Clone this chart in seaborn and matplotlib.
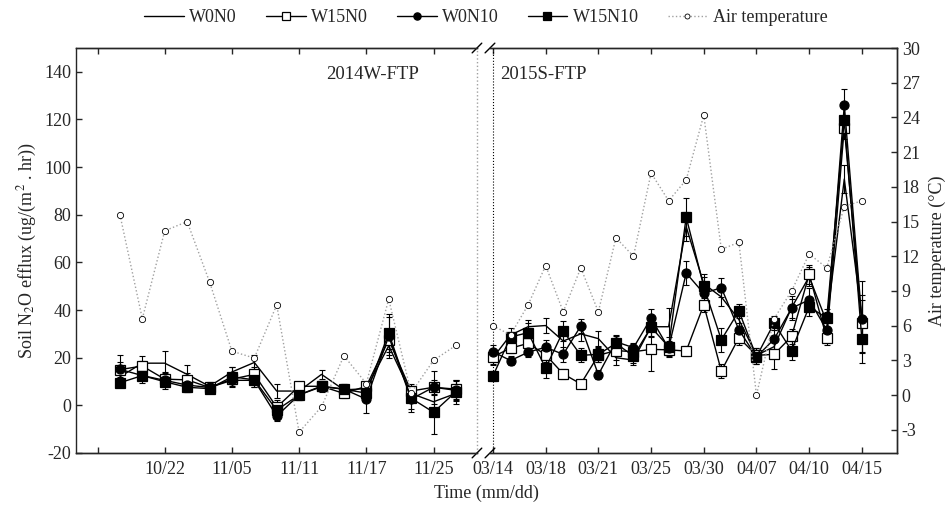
import numpy as np
import pandas as pd
import matplotlib
matplotlib.use("Agg")
import matplotlib.pyplot as plt
import seaborn as sns

# data (N2O in ug/(m2.hr), temperature in degC)

left_ticklabels = ["", "10/22", "11/05", "11/11", "11/17", "11/25"]
right_ticklabels = ["03/14", "03/18", "03/21", "03/25", "03/30", "04/07", "04/10", "04/15"]

temp_left = [15.6, 6.6, 14.2, 15.0, 9.8, 3.8, 3.2, 7.8, -3.2, -1.0, 3.4, 1.0, 8.3, 0.2, 3.0, 4.3]
w0n0_left = [12, 17.7, 17.7, 13, 8, 14, 18, 6, 6, 13, 6.5, 7, 25, 5, 1.5, 5]
w15n0_left = [15, 16.5, 11, 10.7, 7.5, 11, 13, -0.8, 8, 8, 5, 8, 27.5, 6, 7.6, 6.8]
w0n10_left = [15.1, 12.5, 10.5, 8.5, 7.5, 10.5, 10.5, -4.5, 4.4, 7.8, 6.8, 2.6, 29, 2.6, 7.6, 6.3]
w15n10_left = [9.5, 12.5, 9.9, 7.6, 7.0, 12.0, 10.7, -2, 4.4, 8.1, 6.8, 5.1, 30.3, 3.0, -2.9, 5.7]

w0n0_err_left = [3, 3, 5, 4, 2, 2, 3, 3, 2, 2, 2, 2, 5, 3, 3, 3]
w15n0_err_left = [3, 2, 3, 3, 2, 2, 3, 3, 2, 2, 2, 2, 4, 2, 3, 4]
w0n10_err_left = [6, 3, 3, 3, 2, 3, 3, 2, 2, 2, 2, 6, 8, 4, 7, 4]
w15n10_err_left = [2, 2, 3, 2, 2, 4, 3, 2, 2, 2, 2, 2, 8, 6, 9, 5]

temp_right = [6.0, 5.2, 7.8, 11.2, 7.2, 11.0, 7.2, 13.6, 12.0, 19.2, 16.8, 18.6, 24.2, 12.6,
              13.2, 0.0, 6.6, 9.0, 12.2, 11.0, 16.3, 16.8]
w0n0_right = [20, 29.5, 33, 33.5, 27, 30, 28, 20, 19, 33, 33, 75, 51, 45.5, 36, 21, 24.6, 41,
              54, 35, 95, 37]
w15n0_right = [20.4, 24, 26, 21.2, 13.2, 9, 21, 23, 22.5, 23.5, 23.3, 22.8, 42.2, 14.4, 28.4,
               21, 21.4, 28.9, 55, 28.2, 116.6, 34.5]
w0n10_right = [22.5, 18.8, 22.3, 24.4, 21.4, 33.3, 12.9, 26.7, 24.2, 36.6, 24, 55.5, 47, 49.4,
               31.7, 20.4, 27.7, 40.8, 44.3, 31.7, 125.9, 36.1]
w15n10_right = [12.3, 28.7, 30.5, 15.6, 31.2, 21, 21.4, 26, 20.7, 32.8, 24.6, 79, 49.9, 27.5,
                39.6, 20.4, 34.5, 23, 41.4, 36.6, 119.9, 27.7]

w0n0_err_right = [3, 3, 3, 3, 4, 3, 3, 3, 2, 4, 8, 6, 4, 4, 3, 3, 4, 5, 4, 4, 6, 15]
w15n0_err_right = [3, 2, 3, 3, 2, 1.5, 3, 4, 3, 9, 3, 2, 3, 3, 3, 3, 6, 3, 4, 3, 5, 12]
w0n10_err_right = [3, 2, 2, 3, 3, 3, 2, 3, 2, 4, 3, 5, 4, 4, 3, 3, 4, 4, 5, 4, 7, 8]
w15n10_err_right = [2, 2, 4, 4, 4, 3, 3, 3, 3, 4, 4, 8, 4, 5, 3, 3, 3, 4, 4, 4, 5, 10]

# styling

sns.set_theme(style="ticks")
plt.rcParams["font.family"] = ["Liberation Serif", "DejaVu Serif"]
plt.rcParams["mathtext.fontset"] = "stix"
plt.rcParams["font.size"] = 13
plt.rcParams["xtick.labelsize"] = 13
plt.rcParams["ytick.labelsize"] = 13
plt.rcParams["axes.unicode_minus"] = False
plt.rcParams["xtick.direction"] = "in"
plt.rcParams["ytick.direction"] = "in"
plt.rcParams["axes.linewidth"] = 1.0

series_names = ["W0N0", "W15N0", "W0N10", "W15N10"]
series_markers = [None, "s", "o", "s"]
series_faces = ["black", "white", "black", "black"]

left_vals = [w0n0_left, w15n0_left, w0n10_left, w15n10_left]
left_errs = [w0n0_err_left, w15n0_err_left, w0n10_err_left, w15n10_err_left]
right_vals = [w0n0_right, w15n0_right, w0n10_right, w15n10_right]
right_errs = [w0n0_err_right, w15n0_err_right, w0n10_err_right, w15n10_err_right]

fig = plt.figure(figsize=(9.49, 5.14), dpi=100)
ax1 = fig.add_axes([0.0801, 0.1187, 0.4225, 0.7879])
ax2 = fig.add_axes([0.5163, 0.1187, 0.4289, 0.7879])
ax1t = ax1.twinx()
ax2t = ax2.twinx()


def draw_panel(ax, axt, vals, errs, temps, with_label):
    idx = np.arange(len(temps))
    for name, mk, fc, v, e in zip(series_names, series_markers, series_faces, vals, errs):
        df = pd.DataFrame({"x": idx, "y": v})
        ax.errorbar(idx, v, yerr=e, fmt="none", ecolor="black", elinewidth=0.8,
                    capsize=2.5, capthick=0.8, zorder=2)
        sns.lineplot(data=df, x="x", y="y", ax=ax, color="black", lw=1.0,
                     marker=mk, markersize=6.5, markerfacecolor=fc, markeredgecolor="black",
                     markeredgewidth=0.9, label=name if with_label else None,
                     legend=False, zorder=3, clip_on=False)
    tdf = pd.DataFrame({"x": idx, "t": temps})
    sns.lineplot(data=tdf, x="x", y="t", ax=axt, color="#a0a0a0", lw=1.0, ls=":",
                 marker="o", markersize=4.5, markerfacecolor="white", markeredgecolor="black",
                 markeredgewidth=0.6, label="Air temperature" if with_label else None,
                 legend=False, zorder=1)
    ax.set_ylim(-20, 150)
    axt.set_ylim(-5, 30)
    ax.set_xlabel("")
    ax.set_ylabel("")
    axt.set_ylabel("")


draw_panel(ax1, ax1t, left_vals, left_errs, temp_left, True)
draw_panel(ax2, ax2t, right_vals, right_errs, temp_right, False)

# left panel axes
ax1.set_xlim(-1.96, 15.94)
ax1t.set_xlim(-1.96, 15.94)
ax1.set_xticks(np.arange(-1, 15, 3))
ax1.set_xticklabels(left_ticklabels)
ax1.set_yticks(np.arange(-20, 141, 20))
ax1.tick_params(axis="x", top=True, length=4, width=1, pad=6)
ax1.tick_params(axis="y", length=4, width=1)
ax1.spines["right"].set_visible(False)
ax1t.spines["right"].set_visible(False)
ax1t.spines["left"].set_visible(False)
ax1t.set_yticks([])
ax1.set_ylabel("Soil N$_2$O efflux (ug/(m$^2$ . hr))", fontsize=13, labelpad=4)

# right panel axes
ax2.set_xlim(-0.17, 23)
ax2t.set_xlim(-0.17, 23)
ax2.set_xticks(np.arange(0, 22, 3))
ax2.set_xticklabels(right_ticklabels)
ax2.tick_params(axis="x", top=True, length=4, width=1, pad=6)
ax2.set_yticks([])
ax2.spines["left"].set_visible(False)
ax2t.spines["left"].set_visible(False)
ax2t.set_yticks(np.arange(-3, 31, 3))
ax2t.tick_params(axis="y", length=4, width=1)
ax2t.set_ylabel("Air temperature (\u00b0C)", fontsize=13, labelpad=6)

# period boundaries
ax1.axvline(15.94, color="#a0a0a0", ls=":", lw=1.0, clip_on=False)
ax2.axvline(0, color="black", ls=":", lw=0.8)

# axis-break marks
kw = dict(color="black", lw=1.0, clip_on=False)
for ax, xs in [(ax1, 1.0), (ax2, 0.0)]:
    for ys in (0.0, 1.0):
        ax.plot([xs - 0.012, xs + 0.012], [ys - 0.012, ys + 0.012], transform=ax.transAxes, **kw)

ax1.text(0.74, 0.935, "2014W-FTP", transform=ax1.transAxes, ha="center", va="center", fontsize=13.5)
ax2.text(0.13, 0.935, "2015S-FTP", transform=ax2.transAxes, ha="center", va="center", fontsize=13.5)

fig.text(0.513, 0.04, "Time (mm/dd)", ha="center", va="center", fontsize=13)

h1, l1 = ax1.get_legend_handles_labels()
h2, l2 = ax1t.get_legend_handles_labels()
fig.legend(h1 + h2, l1 + l2, loc="center", bbox_to_anchor=(0.512, 0.965), ncol=5,
           frameon=False, fontsize=13, handlelength=2.2, columnspacing=1.6,
           handletextpad=0.3, markerscale=0.8)

fig.savefig("out.png", dpi=100)
